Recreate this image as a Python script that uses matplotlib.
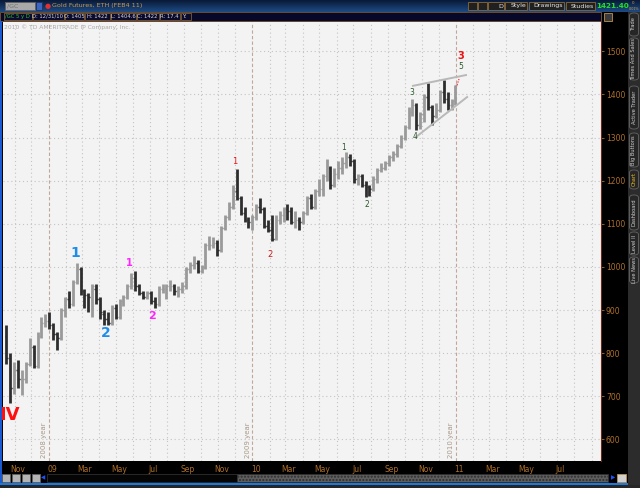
import matplotlib
matplotlib.use('Agg')
import matplotlib.pyplot as plt
import matplotlib.dates as mdates
from matplotlib.patches import Rectangle, FancyBboxPatch
import numpy as np
import pandas as pd

W, H = 640, 488

# weekly OHLC (gold futures, Oct 2008 - Dec 2010)
week_end = pd.date_range('2008-10-17', periods=116, freq='W-FRI')
opens = [840, 790, 720, 760, 740, 740, 775, 815, 770, 840, 870, 875, 865, 845, 835, 900, 925, 915, 965, 995,
         945, 935, 925, 950, 925, 890, 880, 870, 905, 885, 920, 930, 955, 975, 955, 940, 930, 940, 920, 915,
         950, 950, 955, 955, 945, 950, 955, 995, 1005, 1010, 990, 1000, 1050, 1052, 1055, 1040, 1090, 1115, 1140, 1175,
         1160, 1125, 1110, 1105, 1115, 1140, 1135, 1095, 1085, 1065, 1110, 1120, 1135, 1130, 1105, 1108, 1105, 1125, 1160, 1140,
         1175, 1180, 1210, 1230, 1190, 1215, 1230, 1240, 1255, 1245, 1205, 1210, 1190, 1185, 1180, 1205, 1225, 1230, 1240, 1255,
         1262, 1280, 1300, 1325, 1360, 1375, 1330, 1355, 1395, 1370, 1350, 1365, 1405, 1390, 1375, 1385]
highs = [865, 800, 780, 784, 760, 780, 835, 820, 850, 885, 890, 895, 870, 850, 905, 930, 945, 970, 1009, 1000,
         950, 940, 960, 960, 930, 900, 895, 912, 915, 925, 935, 960, 985, 990, 960, 945, 945, 945, 930, 955,
         960, 960, 970, 960, 955, 965, 1000, 1012, 1025, 1015, 1005, 1055, 1072, 1070, 1062, 1095, 1120, 1150, 1190, 1227,
         1165, 1140, 1115, 1120, 1145, 1160, 1140, 1110, 1120, 1120, 1130, 1140, 1145, 1138, 1130, 1115, 1130, 1165, 1168, 1180,
         1205, 1215, 1250, 1235, 1230, 1245, 1255, 1267, 1262, 1250, 1215, 1215, 1200, 1190, 1210, 1230, 1240, 1245, 1260, 1268,
         1285, 1305, 1330, 1370, 1390, 1380, 1360, 1400, 1427, 1375, 1380, 1410, 1434, 1405, 1390, 1422]
lows = [775, 684, 705, 720, 703, 730, 770, 765, 765, 835, 860, 855, 830, 807, 830, 885, 905, 910, 960, 935,
        905, 895, 885, 915, 880, 865, 865, 866, 880, 880, 910, 925, 950, 945, 935, 925, 925, 915, 905, 910,
        940, 925, 945, 935, 930, 940, 950, 985, 995, 985, 985, 995, 1040, 1045, 1025, 1035, 1085, 1110, 1135, 1155,
        1120, 1105, 1090, 1085, 1110, 1125, 1090, 1080, 1060, 1062, 1100, 1105, 1110, 1100, 1090, 1085, 1100, 1120, 1135, 1135,
        1165, 1165, 1200, 1180, 1185, 1205, 1215, 1230, 1235, 1195, 1190, 1185, 1162, 1165, 1175, 1195, 1220, 1225, 1235, 1245,
        1255, 1275, 1295, 1320, 1350, 1318, 1320, 1335, 1365, 1330, 1345, 1360, 1380, 1365, 1365, 1375]
closes = [790, 720, 760, 740, 740, 775, 815, 770, 840, 870, 875, 865, 845, 835, 900, 925, 915, 965, 1000, 945,
          935, 930, 955, 925, 895, 880, 870, 905, 885, 920, 930, 955, 975, 955, 940, 930, 940, 920, 915, 950,
          950, 955, 955, 945, 950, 955, 995, 1005, 1010, 990, 1000, 1050, 1052, 1055, 1040, 1090, 1115, 1140, 1175, 1160,
          1125, 1110, 1105, 1115, 1140, 1135, 1095, 1085, 1065, 1110, 1120, 1135, 1130, 1105, 1108, 1105, 1125, 1160, 1140, 1175,
          1180, 1210, 1230, 1190, 1215, 1230, 1240, 1255, 1245, 1205, 1210, 1190, 1185, 1180, 1205, 1225, 1230, 1240, 1255, 1262,
          1280, 1300, 1325, 1360, 1375, 1330, 1355, 1395, 1370, 1350, 1365, 1405, 1390, 1375, 1385, 1422]

# elliott wave labels: text, date, price, colour, size
wave_text = ["IV", "1", "2", "1", "2", "1", "2", "1", "2", "3", "4", "5", "3"]
wave_date = ["2008-10-23", "2009-02-18", "2009-04-13", "2009-05-26", "2009-07-05", "2009-12-01",
             "2010-02-02", "2010-06-14", "2010-07-26", "2010-10-14", "2010-10-20", "2011-01-10", "2011-01-10"]
wave_price = [657, 1032, 847, 1009, 886, 1244, 1028, 1278, 1144, 1404, 1302, 1464, 1490]
wave_color = ["#ff1010", "#1e8ce8", "#1e8ce8", "#ff22ff", "#ff22ff", "#ee1111", "#c81e1e",
              "#2a5a2a", "#2a5a2a", "#2a5a2a", "#2a5a2a", "#2a5a2a", "#ee1111"]
wave_size = [13, 10, 10, 7, 8, 6, 6, 5.5, 5.5, 5.5, 5.5, 5.5, 7]

# triangle trend lines
upper_line_dates = ["2010-10-16", "2011-01-19"]
upper_line_prices = [1420, 1445]
lower_line_dates = ["2010-10-22", "2011-01-21"]
lower_line_prices = [1302, 1394]

price_ticks = [600, 700, 800, 900, 1000, 1100, 1200, 1300, 1400, 1500]
month_labels = ["Nov", "09", "Mar", "May", "Jul", "Sep", "Nov", "10", "Mar", "May", "Jul", "Sep",
                "Nov", "11", "Mar", "May", "Jul"]
month_label_dates = pd.date_range('2008-11-01', periods=17, freq='2MS')
year_lines = ["2009-01-01", "2010-01-01", "2011-01-01"]
year_labels = ["2008 year", "2009 year", "2010 year"]

header_boxes = ["/GC 5 y D", "D: 12/31/10", "O: 1405", "H: 1422", "L: 1404.6", "C: 1422", "R: 17.4", "Y:"]
header_box_x = [3, 32, 64, 84, 110, 136, 159, 180, 191]
side_tabs = ["Trade", "Times And Sales", "Active Trader", "Big Buttons", "Chart", "Dashboard", "Level II", "Live News"]
side_tab_y = [(13, 36), (38, 80), (86, 129), (133, 167), (170, 189), (195, 230), (232, 255), (257, 283)]


def fx(px):
    return px / W


def fy(py):
    return 1 - py / H


def box(x0, y0, x1, y1, face, edge='none', lw=0.6, z=1):
    r = Rectangle((fx(x0), fy(y1)), (x1 - x0) / W, (y1 - y0) / H, transform=fig.transFigure,
                  facecolor=face, edgecolor=edge, linewidth=lw, zorder=z)
    fig.add_artist(r)
    return r


fig = plt.figure(figsize=(6.4, 4.88), dpi=100, facecolor='black')

# header row 1 (gradient bar)
gax = fig.add_axes([0, fy(12), 1, 12 / H])
gax.imshow(np.linspace(0, 1, 20).reshape(-1, 1), aspect='auto',
           cmap=matplotlib.colors.LinearSegmentedColormap.from_list('g', ['#0a1a38', '#1d4a82']),
           extent=[0, 1, 0, 1], origin='upper')
gax.axis('off')
box(5, 2, 35, 10, '#a9a9a9', '#606060', z=3)
fig.text(fx(7), fy(6), "/GC", fontsize=4.5, color='#707070', va='center', zorder=4)
box(36, 2, 42, 10, '#3a66c0', '#203060', z=3)
fig.text(fx(45), fy(6), "\u25cf", fontsize=5, color='#e03030', va='center', zorder=4)
fig.text(fx(52), fy(6), "Gold Futures, ETH (FEB4 11)", fontsize=4.6, color='#c89a50', va='center', zorder=4)
for x0, x1, lab in [(468, 477, ""), (478, 487, ""), (488, 504, "D"), (505, 527, "Style"),
                    (529, 564, "Drawings"), (566, 595, "Studies")]:
    box(x0, 2, x1, 10, '#202020', '#8a6a3a', z=3)
    if lab:
        fig.text(fx(x1 - 1), fy(6), lab, fontsize=4.5, color='#e8e8e8', va='center', ha='right', zorder=4)
fig.text(fx(596), fy(6.5), "1421.40", fontsize=5.2, color='#22e022', va='center', fontweight='bold', zorder=4)
fig.text(fx(632), fy(3.2), "0", fontsize=2.8, color='#d0a050', va='center', zorder=4)
fig.text(fx(639.8), fy(9.2), "0.01%", fontsize=2.4, color='#d0a050', va='center', ha='right', zorder=4)

# header row 2
box(0, 12, 601, 21, '#07072a', '#7a5a3a', z=2)
for i, lab in enumerate(header_boxes):
    x0, x1 = header_box_x[i], header_box_x[i + 1]
    box(x0 + 0.5, 13, x1 - 0.5, 20, '#0b0b2e', '#7a5a3a', z=3)
    fig.text(fx((x0 + x1) / 2), fy(16.5), lab, fontsize=3.8, ha='center', va='center',
             color='#30c030' if i == 0 else '#d8d8d8', zorder=4)
box(604, 13, 612, 21, '#3a3a3a', '#c09050', z=3)

# right side tabs
box(628, 12, 640, 488, '#2c2c2c', z=1)
for lab, (y0, y1) in zip(side_tabs, side_tab_y):
    t = FancyBboxPatch((fx(629.5), fy(y1)), 9 / W, (y1 - y0) / H, boxstyle='round,pad=0,rounding_size=0.006',
                       transform=fig.transFigure, facecolor='#262626', edgecolor='#707070', linewidth=0.5, zorder=2)
    fig.add_artist(t)
    fig.text(fx(634), fy((y0 + y1) / 2), lab, rotation=90, fontsize=3.7, ha='center', va='center',
             color='#e8c020' if lab == "Chart" else '#d0d0d0', zorder=3)

# bottom bar
for x0 in [2, 12, 22, 32]:
    box(x0, 474, x0 + 8, 482, '#b4b4b4', '#606060', z=3)
fig.text(fx(43), fy(478), "\u25c0", fontsize=4, color='#2050ff', ha='center', va='center')
box(47, 474, 237, 482, '#050505', '#303030', z=2)
box(237, 474, 608, 482, '#5e5e5e', '#303030', z=2).set_hatch('.....')
fig.text(fx(613), fy(478), "\u25b6", fontsize=4, color='#2050ff', ha='center', va='center')
box(617, 474, 626, 482, '#d0d0d0', '#c09050', z=3)
box(0, 483, 628, 485, '#1a7ae0', z=3)
box(0, 485, 640, 488, '#262626', z=3)
box(0, 21, 2, 483, '#1a5ad0', z=3)

# price chart
ax = fig.add_axes([fx(3), fy(461), 598 / W, 439 / H])
ax.set_facecolor('#f3f3f3')
ax.set_xlim(pd.Timestamp('2008-10-11'), pd.Timestamp('2011-09-18'))
ax.set_ylim(550, 1568)

for p in price_ticks:
    ax.axhline(p, color='#c4c4c4', lw=0.8, ls=(0, (1, 2.5)), zorder=0)
for m in pd.date_range('2008-11-01', '2011-09-01', freq='MS'):
    if m.month != 1:
        ax.axvline(m, color='#c4c4c4', lw=0.8, ls=(0, (1, 2.5)), zorder=0)
for d, lab in zip(year_lines, year_labels):
    ax.axvline(pd.Timestamp(d), color='#bfa898', lw=0.8, ls=(0, (3, 2)), zorder=0)
    ax.text(pd.Timestamp(d) - pd.Timedelta(days=3), 556, lab, rotation=90, ha='right', va='bottom',
            fontsize=5, color='#a89888')

x = mdates.date2num(week_end)
cols = ['#9a9a9a' if c >= o else '#2e2e2e' for o, c in zip(opens, closes)]
ax.vlines(x, lows, highs, colors=cols, lw=2.0, zorder=2)
ax.hlines(opens, x - 3, x, colors=cols, lw=1.0, zorder=2)
ax.hlines(closes, x, x + 3, colors=cols, lw=1.0, zorder=2)

ax.plot(pd.to_datetime(upper_line_dates), upper_line_prices, color='#b8b8b8', lw=1.4, zorder=3)
ax.plot(pd.to_datetime(lower_line_dates), lower_line_prices, color='#b8b8b8', lw=1.4, zorder=3)
ax.plot(pd.to_datetime(["2011-01-03", "2011-01-07"]), [1422, 1438], color='#ff3030', lw=0.9, ls=(0, (1, 1)), zorder=3)

for s, d, p, c, fs in zip(wave_text, wave_date, wave_price, wave_color, wave_size):
    ax.text(pd.Timestamp(d), p, s, color=c, fontsize=fs, ha='center', va='center',
            fontweight='bold' if fs >= 7 else 'normal', zorder=4)

ax.yaxis.tick_right()
ax.set_yticks(price_ticks)
ax.tick_params(axis='y', colors='#b07028', labelsize=5.5, length=2.5, width=0.6, pad=1)
ax.set_xticks(month_label_dates + pd.Timedelta(days=6))
ax.set_xticklabels(month_labels)
ax.tick_params(axis='x', colors='#b07028', labelsize=5.5, length=0, pad=3)
for side in ['top', 'left', 'bottom']:
    ax.spines[side].set_visible(False)
ax.spines['right'].set_color('#6a2a1a')
ax.spines['right'].set_linewidth(0.8)

fig.text(fx(4), fy(27), "2010 \u00a9 TD AMERITRADE IP Company, Inc.", fontsize=4.3, color='#a8a8a8', va='center')

fig.savefig('out.png', dpi=100, facecolor=fig.get_facecolor())
